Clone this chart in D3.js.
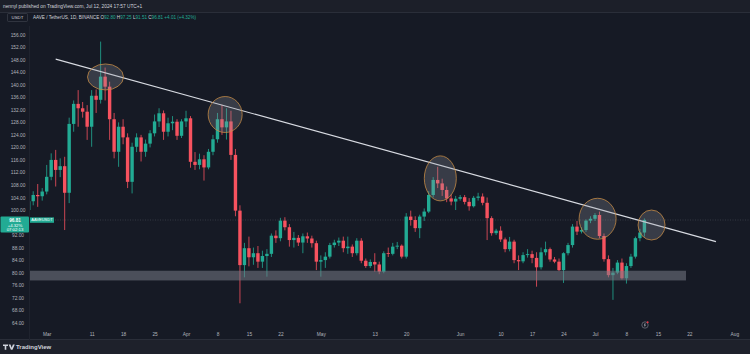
<!DOCTYPE html>
<html><head><meta charset="utf-8">
<script src="https://cdn.jsdelivr.net/npm/d3@7"></script>
<style>html,body{margin:0;padding:0;background:#161a25;}svg{display:block;}</style>
</head><body>
<svg id="chart" width="750" height="354"></svg>
<script>
// ---------- DATA ----------
const firstDay = "2024-02-26", lastDay = "2024-07-12";
const open = [100.0,102.8,104.8,104.4,
105.9,110.6,116.0,112.8,114.0,105.5,127.5,133.9,132.5,131.4,126.6,136.5,135.2,142.6,139.4,129.0,118.6,126.6,123.2,109.0,120.2,123.2,118.6,121.2,124.5,128.3,130.9,125.0,127.7,128.2,123.7,
128.3,129.3,115.4,114.4,116.2,113.6,118.6,122.6,129.0,126.4,128.3,117.6,99.8,82.4,87.8,84.9,86.2,83.5,85.3,86.0,91.8,91.0,96.6,94.5,90.4,91.1,89.6,91.6,90.9,89.4,
83.5,84.0,85.1,88.8,89.6,90.2,87.8,88.3,86.2,90.2,83.8,82.1,83.4,82.6,80.3,86.2,86.0,88.3,88.6,85.1,97.9,96.8,94.2,97.9,99.5,104.8,109.6,108.5,106.4,103.7,102.7,
103.6,104.1,102.6,101.2,103.9,104.3,102.3,97.4,92.6,93.4,90.6,87.5,89.9,84.0,83.6,85.6,85.9,84.7,81.7,86.5,87.5,84.2,83.5,80.8,86.2,88.8,94.7,93.1,93.6,96.6,
97.2,98.4,91.7,84.3,79.2,80.0,83.2,78.2,82.1,85.1,91.0,92.8];
const high = [103.5,106.0,108.3,107.0,
114.4,118.1,119.2,116.5,117.0,129.5,135.0,138.3,134.5,133.5,138.3,138.5,153.8,145.5,141.0,131.0,128.0,129.0,124.5,121.5,124.5,124.0,122.5,125.5,130.5,132.5,131.8,129.5,130.0,129.0,129.0,
131.7,130.0,118.5,118.0,117.5,119.5,124.0,131.0,133.6,132.5,131.7,119.5,101.5,89.5,91.5,88.0,88.5,87.0,87.5,92.5,93.5,97.5,97.7,95.5,93.0,92.0,92.5,92.8,91.8,90.2,
85.5,86.5,89.5,90.5,91.2,91.5,91.5,89.0,91.0,91.0,84.5,84.2,86.2,83.5,86.8,88.0,89.5,89.8,89.0,99.0,99.8,98.0,98.5,100.5,106.0,110.5,113.8,110.0,107.5,105.0,104.5,
104.8,104.8,103.8,104.5,105.5,105.3,104.0,98.0,94.0,94.8,91.2,91.4,90.5,85.5,86.5,87.5,87.0,86.5,88.0,89.9,88.0,85.0,84.5,86.5,89.5,95.5,96.5,94.5,97.0,98.0,
99.0,99.5,92.5,85.5,81.5,84.0,84.5,83.0,86.0,91.5,94.0,97.3];
const low = [98.5,101.5,101.0,103.0,
105.0,109.5,107.5,110.5,93.6,102.2,125.0,126.6,129.5,122.4,120.2,131.0,134.0,135.0,122.4,116.5,113.8,121.0,107.0,105.3,118.5,115.5,117.0,120.0,123.5,126.5,122.4,123.5,125.5,122.4,123.0,
126.5,113.5,112.8,113.0,109.4,113.0,117.5,121.5,124.0,122.5,116.0,98.0,70.2,78.5,82.0,82.5,81.5,81.5,78.7,85.0,89.5,90.0,93.5,88.3,88.0,88.5,86.2,89.5,88.0,80.8,
78.7,81.5,84.5,88.0,88.5,86.5,86.0,85.0,85.5,83.0,81.5,81.5,80.3,79.5,79.8,85.0,85.5,87.5,84.5,84.5,95.0,93.0,91.0,96.5,99.0,104.0,107.0,104.5,102.5,101.5,100.0,
103.0,101.8,99.8,100.8,103.0,101.5,90.4,91.8,92.0,89.8,86.5,86.8,83.0,80.8,83.0,84.8,83.0,75.5,81.0,85.5,83.5,83.0,80.5,76.7,85.5,88.0,92.0,92.5,93.0,95.8,
96.5,91.0,83.5,78.5,71.3,79.5,77.8,76.5,81.5,84.5,90.0,91.5];
const close = [102.8,104.8,104.4,105.9,
110.6,116.0,112.8,114.0,105.5,127.5,133.9,132.5,131.4,126.6,136.5,135.2,142.6,139.4,129.0,118.6,126.6,123.2,109.0,120.2,123.2,118.6,121.2,124.5,128.3,130.9,125.0,127.7,128.2,123.7,128.3,
129.3,115.4,114.4,116.2,113.6,118.6,122.6,129.0,126.4,128.3,117.6,99.8,82.4,87.8,84.9,86.2,83.5,85.3,86.0,91.8,91.0,96.6,94.5,90.4,91.1,89.6,91.6,90.9,89.4,83.5,
84.0,85.1,88.8,89.6,90.2,87.8,88.3,86.2,90.2,83.8,82.1,83.4,82.6,80.3,86.2,86.0,88.3,88.6,85.1,97.9,96.8,94.2,97.9,99.5,104.8,109.6,108.5,106.4,103.7,102.7,103.6,
104.1,102.6,101.2,103.9,104.3,102.3,97.4,92.6,93.4,90.6,87.5,89.9,84.0,83.6,85.6,85.9,84.7,81.7,86.5,87.5,84.2,83.5,80.8,86.2,88.8,94.7,93.1,93.6,96.6,97.2,
98.4,91.7,84.3,79.2,80.0,83.2,78.2,82.1,85.1,91.0,92.8,96.81];

const yTickValues = [64,68,72,76,80,84,88,92,100,104,108,112,116,120,124,128,132,136,140,144,148,152,156];
const xTickDates  = ["2024-03-01","2024-03-11","2024-03-18","2024-03-25","2024-04-01","2024-04-08","2024-04-15","2024-04-22","2024-05-01","2024-05-13","2024-05-20","2024-06-01","2024-06-10","2024-06-17","2024-06-24","2024-07-01","2024-07-08","2024-07-15","2024-07-22","2024-08-01"];
const xTickLabels = ["Mar","11","18","25","Apr","8","15","22","May","13","20","Jun","10","17","24","Jul","8","15","22","Aug"];

const trendDates  = ["2024-03-03T00:00Z","2024-07-27T22:00Z"];
const trendPrices = [148.2, 89.9];
const zoneDates   = ["2024-02-20T00:00Z","2024-07-21T06:00Z"];
const zonePrices  = [77.5, 80.6];
const markerDates  = ["2024-03-14T02:00Z","2024-04-09T17:00Z","2024-05-27T14:00Z","2024-07-01T14:00Z","2024-07-13T14:00Z"];
const markerPrices = [142.5, 130.5, 110.1, 97.2, 95.2];
const lastPrice = 96.81;
const headerOHLC = [["O","92.80"],["H","97.25"],["L","91.51"],["C","96.81"]];
const headerChange = "+4.01 (+4.32%)";

// ---------- SETUP ----------
const W = 750, H = 354;
const plotL = 30, plotR = 750, plotT = 12, plotB = 328;
const UP = "#22ab94", DOWN = "#f7525f";
const FONT = "'Liberation Sans', Arial, sans-serif";
const svg = d3.select("#chart");

const dates = d3.utcDay.range(new Date(firstDay + "T00:00Z"), d3.utcDay.offset(new Date(lastDay + "T00:00Z"), 1));
const bars = dates.map((d, i) => ({date: d, o: open[i], h: high[i], l: low[i], c: close[i]}));

const x = d3.scaleUtc().domain([new Date("2024-03-01T00:00Z"), new Date("2024-08-01T00:00Z")]).range([46.7, 734.3]);
const y = d3.scaleLinear().domain([64, 156]).range([322.7, 34.7]);

// backgrounds
svg.append("rect").attr("width", W).attr("height", H).attr("fill", "#161a25");
svg.append("rect").attr("width", W).attr("height", 12).attr("fill", "#1c1f29");
svg.append("rect").attr("y", 340).attr("width", W).attr("height", 14).attr("fill", "#1e212b");
svg.append("line").attr("x1", 0).attr("x2", W).attr("y1", 12.5).attr("y2", 12.5).attr("stroke", "#2a2e39");
svg.append("line").attr("x1", 0).attr("x2", W).attr("y1", 339.5).attr("y2", 339.5).attr("stroke", "#2a2e39");
svg.append("line").attr("x1", plotL - 0.5).attr("x2", plotL - 0.5).attr("y1", 26).attr("y2", 340).attr("stroke", "#1f232e");

svg.append("defs").append("clipPath").attr("id", "clip")
  .append("rect").attr("x", plotL).attr("y", plotT).attr("width", plotR - plotL).attr("height", plotB - plotT);
const plot = svg.append("g").attr("clip-path", "url(#clip)");

// price line
plot.append("line").attr("x1", plotL).attr("x2", plotR).attr("y1", y(lastPrice)).attr("y2", y(lastPrice))
  .attr("stroke", "#787b86").attr("stroke-opacity", 0.45).attr("stroke-width", 0.7).attr("stroke-dasharray", "1,1.5");

// candles
const bw = 3.4;
const cg = plot.append("g");
cg.selectAll("line.wick").data(bars).join("line").attr("class", "wick")
  .attr("x1", d => x(d.date)).attr("x2", d => x(d.date))
  .attr("y1", d => y(d.h)).attr("y2", d => y(d.l))
  .attr("stroke", d => d.c >= d.o ? UP : DOWN).attr("stroke-width", 0.8);
cg.selectAll("rect.body").data(bars).join("rect").attr("class", "body")
  .attr("x", d => x(d.date) - bw / 2)
  .attr("width", bw)
  .attr("y", d => y(Math.max(d.o, d.c)))
  .attr("height", d => Math.max(0.8, Math.abs(y(d.o) - y(d.c))))
  .attr("fill", d => d.c >= d.o ? UP : DOWN);

// support zone
plot.append("rect")
  .attr("x", x(new Date(zoneDates[0]))).attr("width", x(new Date(zoneDates[1])) - x(new Date(zoneDates[0])))
  .attr("y", y(zonePrices[1])).attr("height", y(zonePrices[0]) - y(zonePrices[1]))
  .attr("fill", "#787b86").attr("fill-opacity", 0.55);

// trend line
plot.append("line")
  .attr("x1", x(new Date(trendDates[0]))).attr("y1", y(trendPrices[0]))
  .attr("x2", x(new Date(trendDates[1]))).attr("y2", y(trendPrices[1]))
  .attr("stroke", "#d8dbe2").attr("stroke-width", 1.1);

// highlight ellipses
const markerRadii = [[18, 13], [17, 18], [16, 22.5], [18.5, 20.5], [13.5, 15]];
plot.selectAll("ellipse.mk").data(markerDates.map((d, i) => ({d: new Date(d), p: markerPrices[i], r: markerRadii[i]})))
  .join("ellipse").attr("class", "mk")
  .attr("cx", d => x(d.d)).attr("cy", d => y(d.p))
  .attr("rx", d => d.r[0]).attr("ry", d => d.r[1])
  .attr("fill", "#9598a1").attr("fill-opacity", 0.28)
  .attr("stroke", "#c98d45").attr("stroke-opacity", 0.85).attr("stroke-width", 0.9);

// y axis (left)
const yAxis = d3.axisLeft(y).tickValues(yTickValues).tickFormat(d3.format(".2f")).tickSize(0).tickPadding(0);
const yg = svg.append("g").attr("transform", "translate(18,0)").call(yAxis);
yg.select(".domain").remove();
yg.selectAll("text").attr("text-anchor", "middle").attr("fill", "#b2b5be")
  .style("font-family", FONT).style("font-size", "4.8px");

// x axis
const xAxis = d3.axisBottom(x).tickValues(xTickDates.map(d => new Date(d + "T00:00Z")))
  .tickFormat((d, i) => xTickLabels[i]).tickSize(0).tickPadding(0);
const xg = svg.append("g").attr("transform", "translate(0,333)").call(xAxis);
xg.select(".domain").remove();
xg.selectAll("text").attr("fill", "#b2b5be").style("font-family", FONT).style("font-size", "4.8px");

// last price label on axis
const ly = y(lastPrice);
svg.append("rect").attr("x", 0.5).attr("y", ly - 3.6).attr("width", 28.5).attr("height", 16.2).attr("rx", 1).attr("fill", UP);
const lbl = svg.append("g").style("font-family", FONT).attr("fill", "#ffffff").attr("text-anchor", "middle");
lbl.append("text").attr("x", 15).attr("y", ly + 1.6).style("font-size", "4.6px").style("font-weight", "bold").text(lastPrice.toFixed(2));
lbl.append("text").attr("x", 15).attr("y", ly + 6.6).style("font-size", "4.3px").text("+4.32%");
lbl.append("text").attr("x", 15).attr("y", ly + 11.3).style("font-size", "4.3px").text("07:02:13");
// symbol label
svg.append("rect").attr("x", plotL).attr("y", ly - 2.6).attr("width", 24).attr("height", 5.4).attr("fill", UP);
svg.append("text").attr("x", plotL + 12).attr("y", ly + 1.4).attr("text-anchor", "middle").attr("fill", "#fff")
  .style("font-family", FONT).style("font-size", "4px").text("AAVEUSDT");

// header
svg.append("text").attr("x", 3).attr("y", 8).attr("fill", "#d1d4dc").style("font-family", FONT).style("font-size", "4.8px")
  .text("nennyl published on TradingView.com, Jul 12, 2024 17:57 UTC+1");
svg.append("rect").attr("x", 7.5).attr("y", 13.5).attr("width", 20).attr("height", 8).attr("rx", 1)
  .attr("fill", "none").attr("stroke", "#434651").attr("stroke-width", 0.6);
svg.append("text").attr("x", 17.5).attr("y", 19.2).attr("text-anchor", "middle").attr("fill", "#d1d4dc")
  .style("font-family", FONT).style("font-size", "4.4px").text("USDT");
const ht = svg.append("text").attr("x", 33).attr("y", 18.6).style("font-family", FONT).style("font-size", "4.6px").attr("fill", "#d1d4dc");
ht.append("tspan").text("AAVE / TetherUS, 1D, BINANCE ");
headerOHLC.forEach(([k, v]) => {
  ht.append("tspan").attr("fill", "#d1d4dc").text(" " + k);
  ht.append("tspan").attr("fill", UP).text(v);
});
ht.append("tspan").attr("fill", UP).text(" " + headerChange);

// event icon
svg.append("circle").attr("cx", 645).attr("cy", 325).attr("r", 3.2).attr("fill", "none").attr("stroke", "#787b86").attr("stroke-width", 0.7);
svg.append("path").attr("d", "M644.4,323.4 L646,323.4 L644.9,325.2 L646.2,325.2 L644.2,327.2 L644.9,325.7 L643.9,325.7 Z").attr("fill", "#9598a1");
svg.append("circle").attr("cx", 647.6).attr("cy", 322.3).attr("r", 1).attr("fill", "#f23645");

// logo
const logo = svg.append("g").attr("fill", "#d1d4dc");
logo.append("path").attr("d", "M3,344.5 h5 v1.6 h-1.7 v3.6 h-1.6 v-3.6 h-1.7 Z");
logo.append("path").attr("d", "M8.6,344.5 h1.9 l1.2,3.2 l1.2,-3.2 h1.9 l-2.3,5.2 h-1.6 Z");
logo.append("text").attr("x", 16).attr("y", 349.4).style("font-family", FONT).style("font-size", "6px").style("font-weight", "bold").text("TradingView");
</script>
</body></html>
